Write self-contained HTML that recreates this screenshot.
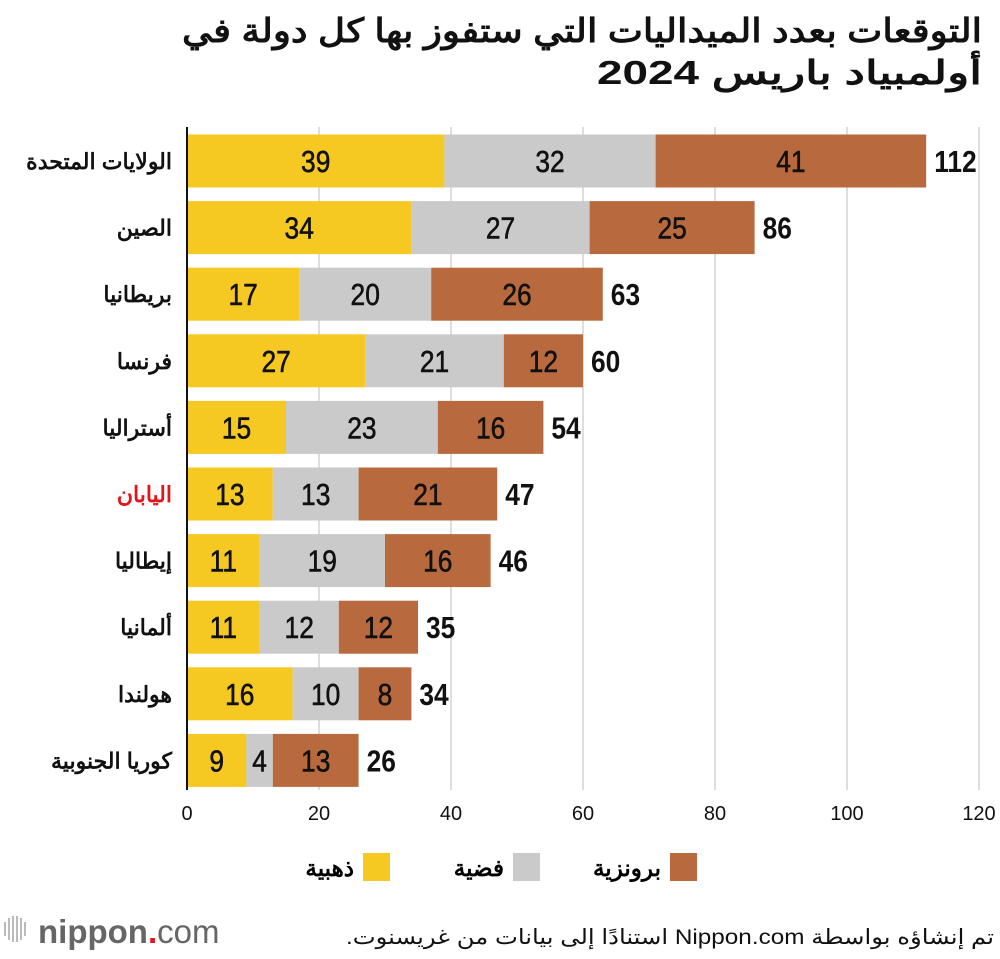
<!DOCTYPE html>
<html><head><meta charset="utf-8"><style>
body{margin:0;background:#fff;width:1000px;height:954px;overflow:hidden;font-family:"Liberation Sans","Noto Sans CJK SC",sans-serif}
.rtl{direction:rtl;unicode-bidi:embed}
</style></head><body>
<svg id="c" width="1000" height="954" xmlns="http://www.w3.org/2000/svg">
<text class="rtl" x="982" y="42" text-anchor="start" direction="rtl" font-size="33" font-weight="bold" fill="#111" textLength="800" lengthAdjust="spacingAndGlyphs">التوقعات بعدد الميداليات التي ستفوز بها كل دولة في</text>
<text class="rtl" x="982" y="84" text-anchor="start" direction="rtl" font-size="33" font-weight="bold" fill="#111" textLength="385" lengthAdjust="spacingAndGlyphs">أولمبياد باريس 2024</text>
<g id="grid"></g><g id="bars"></g><g id="labels"></g>
<line x1="187" y1="127" x2="187" y2="790" stroke="#111" stroke-width="2"/>
<g>
<rect x="363" y="853" width="27" height="28" fill="#f6c922"/>
<text class="rtl" x="354" y="876" text-anchor="start" direction="rtl" font-size="23" font-weight="bold">ذهبية</text>
<rect x="513" y="853" width="27" height="28" fill="#c9cac9"/>
<text class="rtl" x="504" y="876" text-anchor="start" direction="rtl" font-size="23" font-weight="bold">فضية</text>
<rect x="670" y="853" width="27" height="28" fill="#b86a3e"/>
<text class="rtl" x="661" y="876" text-anchor="start" direction="rtl" font-size="23" font-weight="bold">برونزية</text>
</g>
<g>
<g fill="#bbb"><rect x="4" y="922" width="2" height="14"/><rect x="8" y="918" width="2" height="22"/><rect x="12" y="916" width="2" height="26"/><rect x="16" y="916" width="2" height="26"/><rect x="20" y="918" width="2" height="22"/><rect x="24" y="922" width="2" height="14"/></g>
<text x="38" y="943" font-size="33" fill="#666"><tspan font-weight="bold">nippon</tspan><tspan fill="#e3141b" font-weight="bold">.</tspan><tspan>com</tspan></text>
</g>
<text class="rtl" x="994" y="944" text-anchor="start" direction="rtl" font-size="21" fill="#111" textLength="648" lengthAdjust="spacingAndGlyphs">تم إنشاؤه بواسطة Nippon.com استنادًا إلى بيانات من غريسنوت.</text>
</svg>
<script>
const countries=["الولايات المتحدة","الصين","بريطانيا","فرنسا","أستراليا","اليابان","إيطاليا","ألمانيا","هولندا","كوريا الجنوبية"];
const gold=[39,34,17,27,15,13,11,11,16,9];
const silver=[32,27,20,21,23,13,19,12,10,4];
const bronze=[41,25,26,12,16,21,16,12,8,13];
const ticks=[0,20,40,60,80,100,120];
const NS="http://www.w3.org/2000/svg";
const x=v=>187+v*(979-187)/120;
const yc=i=>161+i*66.6;
function mk(tag,attrs,parent,txt){const e=document.createElementNS(NS,tag);for(const k in attrs)e.setAttribute(k,attrs[k]);if(txt!==undefined)e.textContent=txt;parent.appendChild(e);return e;}
const grid=document.getElementById('grid'),bars=document.getElementById('bars'),labels=document.getElementById('labels');
ticks.forEach(t=>{
 const l=mk('line',{x1:x(t),x2:x(t),y1:127,y2:790,stroke:'#d4d4d4','stroke-width':1.5},grid);
 
 
 const tx=mk('text',{x:x(t),y:820,'text-anchor':'middle','font-size':20,fill:'#111'},grid,String(t));
 
 
});
const series=[[gold,'#f6c922','gold'],[silver,'#c9cac9','silver'],[bronze,'#b86a3e','bronze']];
countries.forEach((c,i)=>{
 let acc=0;const cy=yc(i);
 series.forEach(([arr,col,nm])=>{
  const v=arr[i];
  const r=mk('rect',{x:x(acc),y:cy-26.5,width:x(acc+v)-x(acc),height:53,fill:col},bars);
  
  
  const cx=(x(acc)+x(acc+v))/2;
  const t=mk('text',{x:0,y:0,transform:`translate(${cx},${cy+11}) scale(0.85,1)`,'text-anchor':'middle','font-size':31,fill:'#111',stroke:'#111','stroke-width':0.6},labels,String(v));
  
  
  acc+=v;
 });
 const tot=mk('text',{x:0,y:0,transform:`translate(${x(acc)+8},${cy+11}) scale(0.85,1)`,'font-size':31,'font-weight':'bold',fill:'#111'},labels,String(acc));
 
 
 const cl=mk('text',{x:172,y:cy+8,'text-anchor':'start',direction:'rtl','class':'rtl','font-size':22,'font-weight':'bold',fill:c==='اليابان'?'#e3141b':'#111'},labels,c);
 
 
});
</script>
</body></html>
